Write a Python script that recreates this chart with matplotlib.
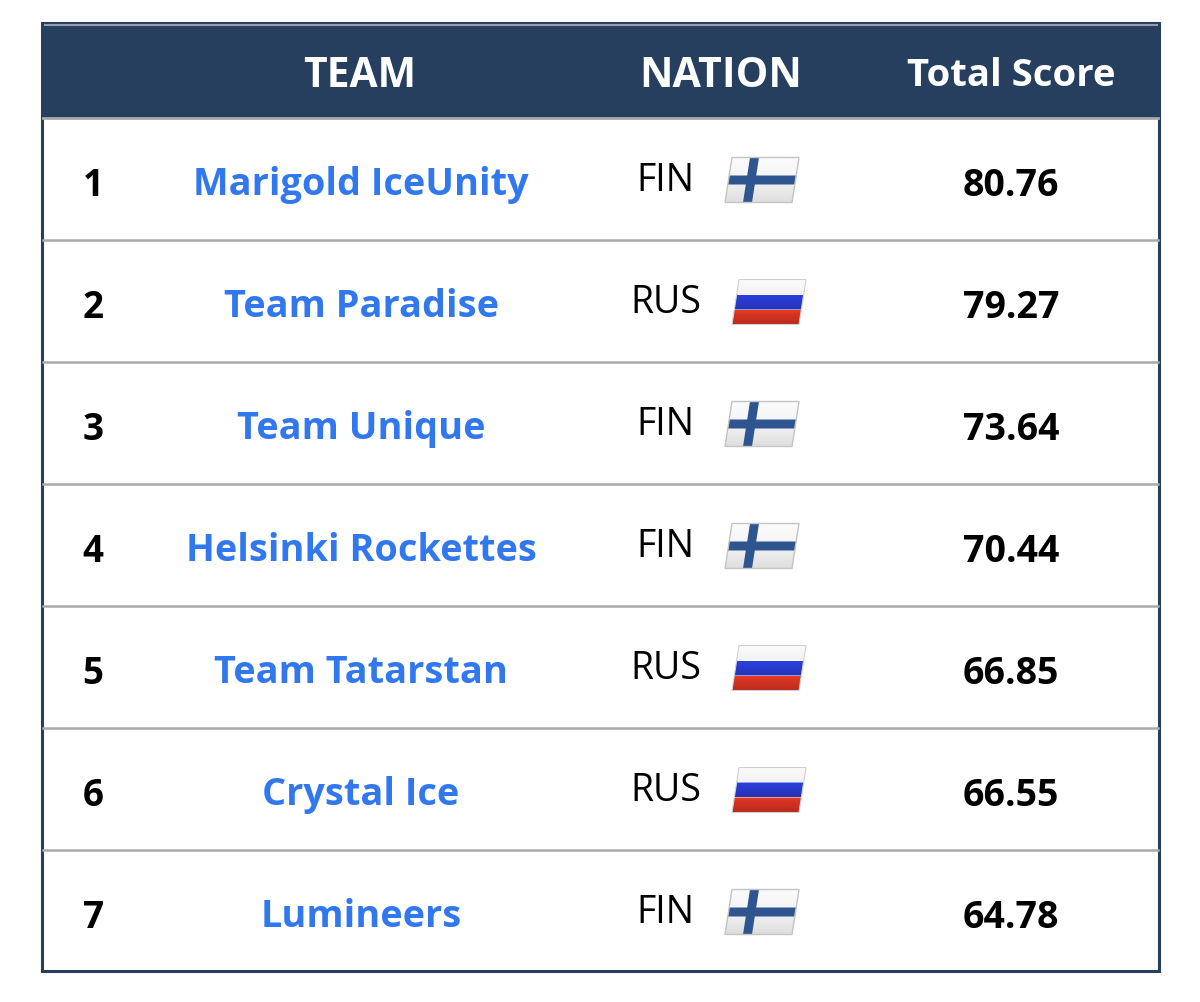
#!/usr/bin/env python3
# Team ranking table with flags, drawn on a pixel-sized axes.

import matplotlib
matplotlib.use("Agg")
import matplotlib.pyplot as plt
import numpy as np
from matplotlib.patches import Polygon, Rectangle

# Data
RANKS = [1, 2, 3, 4, 5, 6, 7]
TEAMS = ["Marigold IceUnity", "Team Paradise", "Team Unique", "Helsinki Rockettes",
         "Team Tatarstan", "Crystal Ice", "Lumineers"]
NATIONS = ["FIN", "RUS", "FIN", "FIN", "RUS", "RUS", "FIN"]
SCORES = ["80.76", "79.27", "73.64", "70.44", "66.85", "66.55", "64.78"]
HEADERS = ["TEAM", "NATION", "Total Score"]

NAVY = "#263f5f"
RULE = "#a9a9a9"
BLUE = "#3178ee"
ROW_H = 122
FLAG_W = 67
FLAG_H = 45
SLANT = 7

plt.rcParams["font.family"] = ["Open Sans", "DejaVu Sans"]


def flag_quad(x0, x1, y0, y1, left, top):
    """Corners of a slanted strip, flag coords measured from the flag's top-left."""
    shear = lambda y: left + SLANT * (1 - y / FLAG_H)
    return [(shear(y0) + x0, top + y0), (shear(y0) + x1, top + y0),
            (shear(y1) + x1, top + y1), (shear(y1) + x0, top + y1)]


def gradient(ax, outline, colors):
    """Fill a polygon with a vertical colour gradient."""
    xs = [p[0] for p in outline]
    ys = [p[1] for p in outline]
    rgb = np.array([matplotlib.colors.to_rgb(c) for c in colors])
    pos = np.linspace(0, 1, len(colors))
    t = np.linspace(0, 1, 32)
    img = np.stack([np.interp(t, pos, rgb[:, k]) for k in range(3)], axis=1)[:, None, :]
    im = ax.imshow(img, extent=(min(xs), max(xs), max(ys), min(ys)), aspect="auto",
                   zorder=3, interpolation="bilinear")
    clip = Polygon(outline, closed=True, transform=ax.transData)
    im.set_clip_path(clip)


def draw_fin(ax, top):
    left = 725
    gradient(ax, flag_quad(0, FLAG_W, 0, FLAG_H, left, top), ["#fbfbfb", "#f3f4f6", "#dedede"])
    ax.add_patch(Polygon(flag_quad(0, FLAG_W, 18, 27, left, top), color="#2f5590", lw=0, zorder=4))
    ax.add_patch(Polygon(flag_quad(18, 27, 0, FLAG_H, left, top), color="#2f5590", lw=0, zorder=4))
    ax.add_patch(Polygon(flag_quad(0, FLAG_W, 0, FLAG_H, left, top), fill=False,
                         ec="#c4c4c4", lw=1, zorder=5))


def draw_rus(ax, top):
    left = 732
    gradient(ax, flag_quad(0, FLAG_W, 0, 15, left, top), ["#fbfbfb", "#f2f2f2"])
    gradient(ax, flag_quad(0, FLAG_W, 15, 30, left, top), ["#2a3fe0", "#2733b4"])
    gradient(ax, flag_quad(0, FLAG_W, 30, FLAG_H, left, top), ["#e23a24", "#b8291c"])
    ax.add_patch(Polygon(flag_quad(0, FLAG_W, 0, FLAG_H, left, top), fill=False,
                         ec="#d0d0d0", lw=0.8, zorder=5))


def main():
    fig = plt.figure(figsize=(12, 10.03), dpi=100, facecolor="white")
    ax = fig.add_axes([0, 0, 1, 1])

    # Table frame and header
    ax.add_patch(Rectangle((42, 24), 1116.5, 948, fc="white", ec=NAVY, lw=2.2, zorder=2))
    ax.add_patch(Rectangle((42, 24), 1116.5, 94, fc=NAVY, ec=NAVY, lw=1, zorder=2))
    ax.plot([45, 1157], [26, 26], color="#8f9db0", lw=1.5, zorder=3)
    ax.plot([43, 1158], [119, 119], color=RULE, lw=2, zorder=3)

    ax.text(360, 87, HEADERS[0], color="white", fontsize=29.3, fontweight="bold",
            ha="center", va="baseline", zorder=6)
    ax.text(721, 87, HEADERS[1], color="white", fontsize=29.6, fontweight="bold",
            ha="center", va="baseline", zorder=6)
    ax.text(1011, 86, HEADERS[2], color="white", fontsize=27.5, fontweight="bold",
            ha="center", va="baseline", zorder=6)

    for i, rank in enumerate(RANKS):
        off = ROW_H * i
        ax.text(93, 196 + off, str(rank), color="black", fontsize=26.5, fontweight="bold",
                ha="center", va="baseline", zorder=6)
        ax.text(361, 195 + off, TEAMS[i], color=BLUE, fontsize=27.3, fontweight="bold",
                ha="center", va="baseline", zorder=6)
        ax.text(665.5, 191 + off, NATIONS[i], color="black", fontsize=27,
                ha="center", va="baseline", zorder=6)
        ax.text(1011, 196 + off, SCORES[i], color="black", fontsize=27, fontweight="bold",
                ha="center", va="baseline", zorder=6)
        if NATIONS[i] == "FIN":
            draw_fin(ax, 158.5 + off)
        else:
            draw_rus(ax, 158.5 + off)
        if i < len(RANKS) - 1:
            ax.plot([43, 1158], [241 + off, 241 + off], color=RULE, lw=1.8, zorder=3)

    ax.set_xlim(0, 1200)
    ax.set_ylim(1003, 0)
    ax.axis("off")
    fig.savefig("out.png", dpi=100, facecolor="white")


if __name__ == "__main__":
    main()
